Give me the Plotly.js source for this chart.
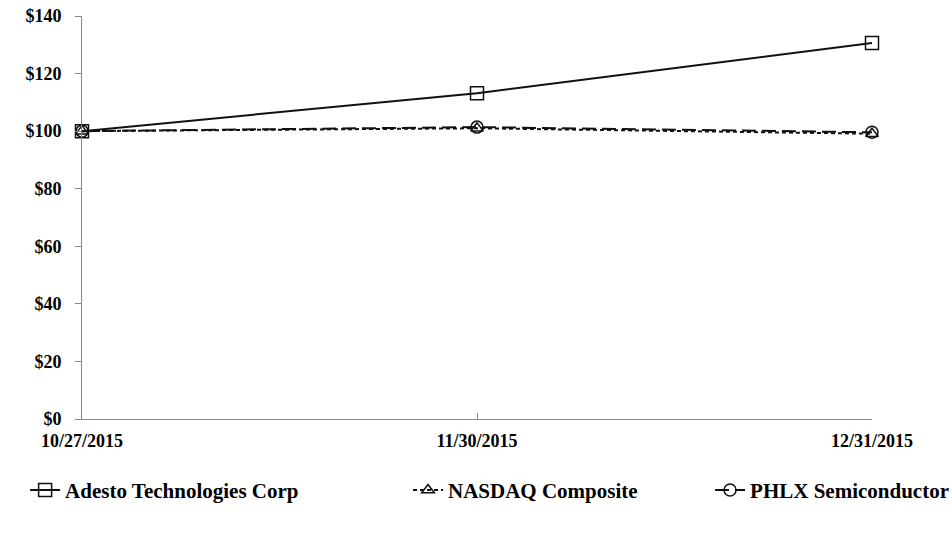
<!DOCTYPE html>
<html>
<head>
<meta charset="utf-8">
<script src="https://cdn.plot.ly/plotly-3.0.1.min.js"></script>
<style>html,body{margin:0;padding:0;background:#fff;}#chart{width:952px;height:533px;}</style>
</head>
<body>
<div id="chart"></div>
<script>
const dates = ["10/27/2015", "11/30/2015", "12/31/2015"];
const adesto = [100, 113.2, 130.6];
const nasdaq = [100, 101.0, 99.1];
const phlx = [100, 101.4, 99.6];
const yTicks = [0, 20, 40, 60, 80, 100, 120, 140];
const yTickText = yTicks.map(v => "$" + v);

const fam = "Liberation Serif, Times New Roman, serif";
const tickFont = {family: fam, size: 18, color: "#000", weight: "bold"};
const legFont = {family: fam, size: 21, color: "#000"};

const traces = [
  {x: dates, y: adesto, name: "<b>Adesto Technologies Corp</b>", type: "scatter", mode: "lines+markers", cliponaxis: false,
   line: {color: "#111", width: 2}, marker: {symbol: "square-open", size: 13, color: "#111", line: {width: 1.5}}, legend: "legend"},
  {x: dates, y: nasdaq, name: "<b>NASDAQ Composite</b>", type: "scatter", mode: "lines+markers", cliponaxis: false,
   line: {color: "#111", width: 2, dash: "4px,3px"}, marker: {symbol: "triangle-up-open", size: 11, color: "#111", line: {width: 1.5}}, legend: "legend2"},
  {x: dates, y: phlx, name: "<b>PHLX Semiconductor</b>", type: "scatter", mode: "lines+markers", cliponaxis: false,
   line: {color: "#111", width: 2, dash: "14px,6px"}, marker: {symbol: "circle-open", size: 12, color: "#111", line: {width: 1.5}}, legend: "legend3"}
];

const legBase = {orientation: "h", yanchor: "middle", y: -0.177, xanchor: "left", font: legFont, bgcolor: "rgba(0,0,0,0)", itemwidth: 30};

const layout = {
  width: 952, height: 533,
  margin: {l: 82, r: 80, t: 16, b: 114, autoexpand: false},
  paper_bgcolor: "#fff", plot_bgcolor: "#fff",
  font: {family: fam, size: 18, color: "#000"},
  xaxis: {type: "category", range: [0, 2], showgrid: false, zeroline: false,
          showline: true, linecolor: "#888", linewidth: 1,
          ticks: "inside", ticklen: 6, tickcolor: "#888",
          tickfont: tickFont, ticklabelstandoff: 5, fixedrange: true},
  yaxis: {range: [0, 140], tickvals: yTicks, ticktext: yTickText, showgrid: false, zeroline: false,
          showline: true, linecolor: "#888", linewidth: 1,
          ticks: "outside", ticklen: 6, tickcolor: "#888",
          tickfont: tickFont, ticklabelstandoff: 10, fixedrange: true},
  legend: Object.assign({}, legBase, {x: -0.072}),
  legend2: Object.assign({}, legBase, {x: 0.4127}),
  legend3: Object.assign({}, legBase, {x: 0.795}),
  showlegend: true
};

Plotly.newPlot("chart", traces, layout, {displayModeBar: false, staticPlot: true});
</script>
</body>
</html>
